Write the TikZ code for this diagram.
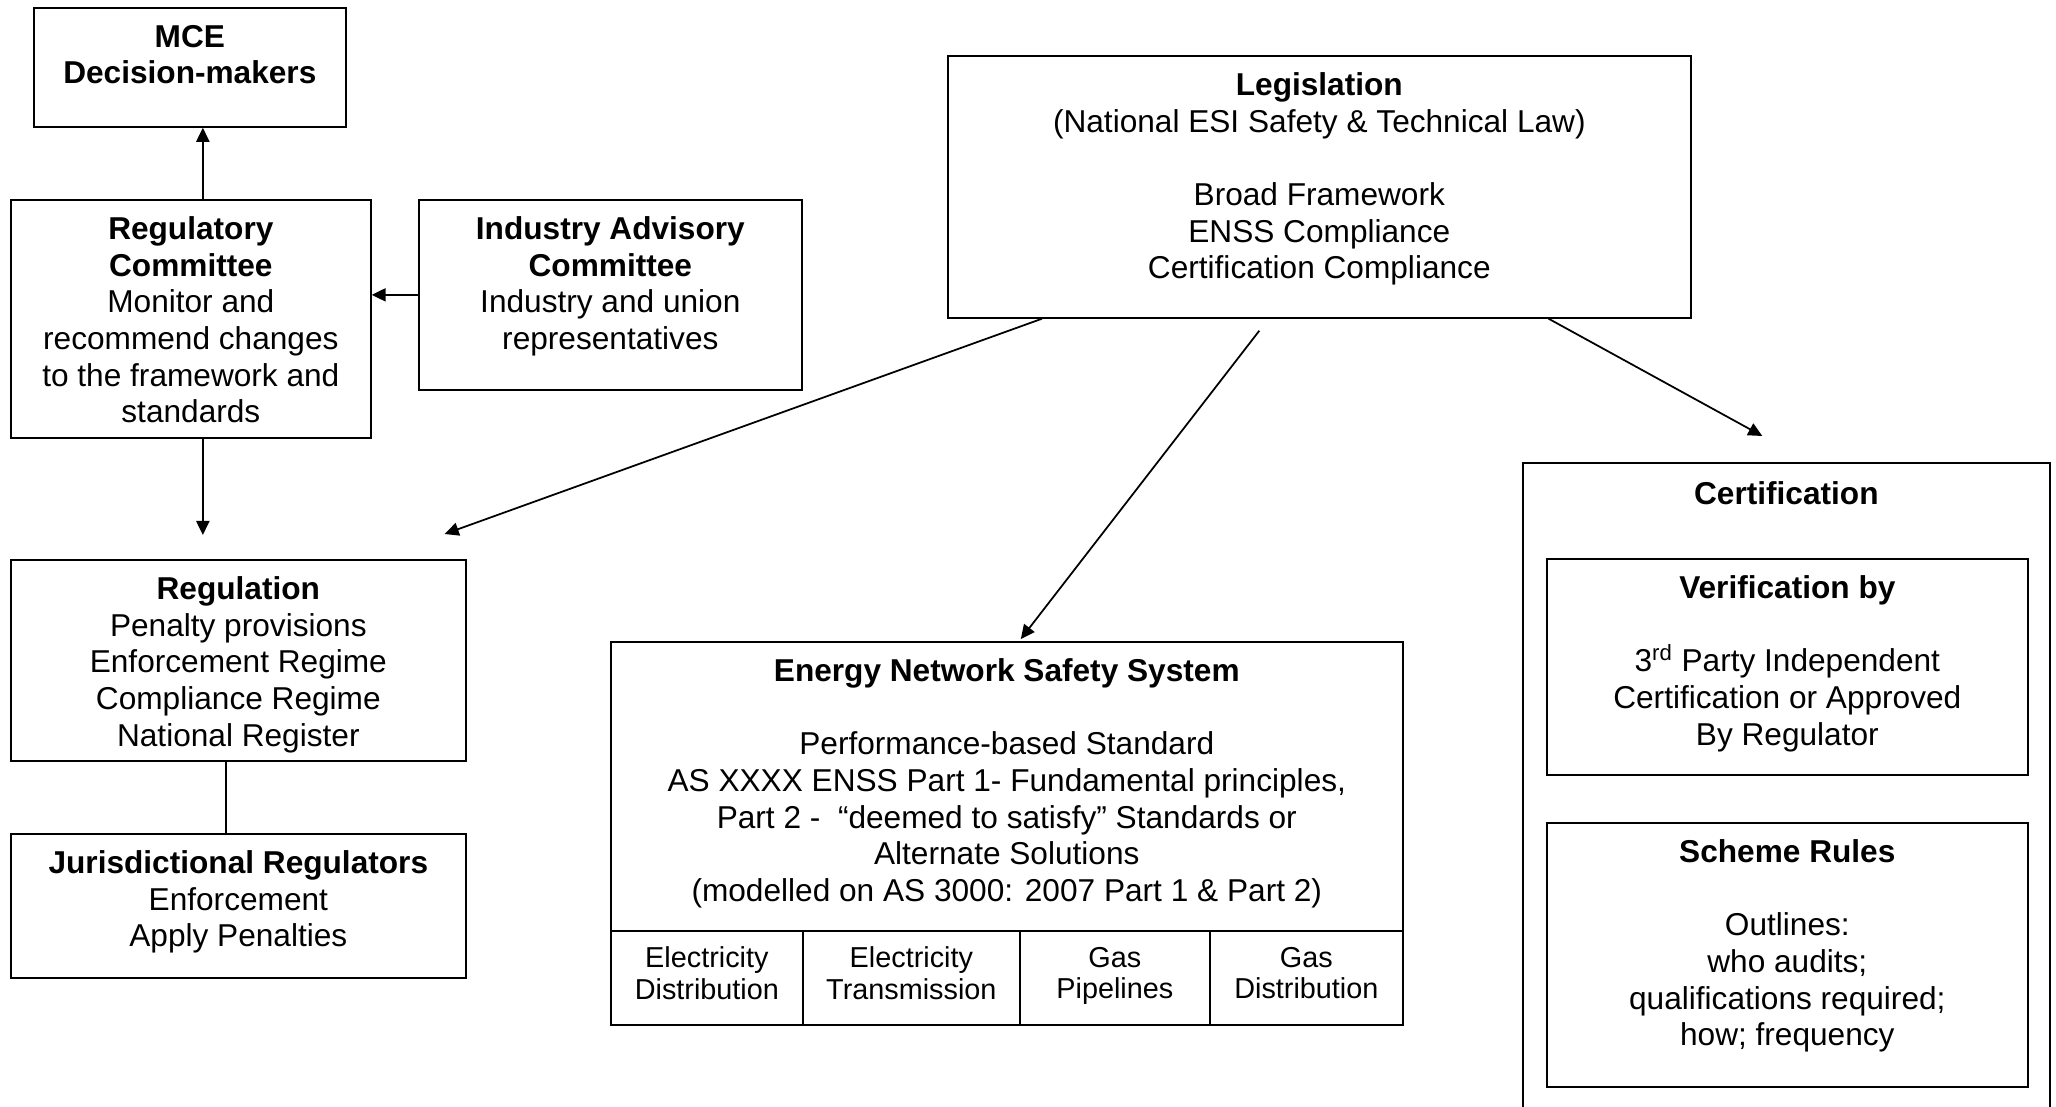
\documentclass[tikz,border=0pt]{standalone}
\usepackage{fontspec}
\setmainfont{Liberation Sans}
\usetikzlibrary{arrows.meta,calc}

\begin{document}
\begin{tikzpicture}[x=0.02cm,y=-0.02cm,
    box/.style={draw, line width=1pt, inner sep=0pt, anchor=north west},
    txt/.style={align=center, inner sep=0pt, anchor=north, font=\fontsize{18}{20.8}\selectfont},
    cell/.style={draw, line width=1pt, inner sep=0pt, anchor=north west, align=center,
      minimum height=1.88cm, font=\fontsize{16.4}{17.9}\selectfont,
      execute at begin node=\strut, execute at end node=\strut},
    link/.style={line width=1pt, -{Triangle[length=8pt,width=7.5pt]}}]
            \clip (0,0) rectangle (2056,1106);
            {
            % Drawing box MCE
            \draw (33,7) node [box, minimum width=6.24cm, minimum height=2.38cm] (mce) {};%
            \draw ([yshift=-10pt]mce.north) node [txt] (mcetxt) {\textbf{MCE}\\\textbf{Decision-makers}};%

            % Drawing box Regulatory Committee
            \draw (10,199) node [box, minimum width=7.2cm, minimum height=4.76cm] (regc) {};%
            \draw ([yshift=-10pt]regc.north) node [txt] (regctxt) {\textbf{Regulatory}\\\textbf{Committee}\\Monitor and\\recommend changes\\to the framework and\\standards};%

            % Drawing box Industry Advisory Committee
            \draw (418,199) node [box, minimum width=7.66cm, minimum height=3.8cm] (iac) {};%
            \draw ([yshift=-10pt]iac.north) node [txt] (iactxt) {\textbf{Industry Advisory}\\\textbf{Committee}\\Industry and union\\representatives};%

            % Drawing box Regulation
            \draw (10,559) node [box, minimum width=9.1cm, minimum height=4.02cm] (regn) {};%
            \draw ([yshift=-10pt]regn.north) node [txt] (regntxt) {\textbf{Regulation}\\Penalty provisions\\Enforcement Regime\\Compliance Regime\\National Register};%

            % Drawing box Jurisdictional Regulators
            \draw (10,833) node [box, minimum width=9.1cm, minimum height=2.88cm] (jur) {};%
            \draw ([yshift=-10pt]jur.north) node [txt] (jurtxt) {\textbf{Jurisdictional Regulators}\\Enforcement\\Apply Penalties};%

            % Drawing box Legislation
            \draw (947,55) node [box, minimum width=14.86cm, minimum height=5.24cm] (legis) {};%
            \draw ([yshift=-10pt]legis.north) node [txt] (legistxt) {\textbf{Legislation}\\(National ESI Safety \& Technical Law)\\[20.8pt]Broad Framework\\ENSS Compliance\\Certification Compliance};%

            % Drawing box Energy Network Safety System
            \draw (610,641) node [box, minimum width=15.84cm, minimum height=7.66cm] (enss) {};%
            \draw ([yshift=-10pt]enss.north) node [txt] (ensstxt) {\textbf{Energy Network Safety System}\\[20.8pt]Performance-based Standard\\AS XXXX ENSS Part 1- Fundamental principles,\\Part 2 -\ \ “deemed to satisfy” Standards or\\Alternate Solutions\\(modelled on AS 3000: 2007 Part 1 \& Part 2)};%

            % Drawing sector cells
            \draw (610,930) node [cell, minimum width=3.84cm] (elecdist) {Electricity\\Distribution};%
            \draw (802,930) node [cell, minimum width=4.34cm] (electrans) {Electricity\\Transmission};%
            \draw (1019,930) node [cell, minimum width=3.8cm] (gaspipe) {Gas\\Pipelines};%
            \draw (1209,930) node [cell, minimum width=3.86cm] (gasdist) {Gas\\Distribution};%

            % Drawing box Certification
            \draw (1522,462) node [box, minimum width=10.54cm, minimum height=14cm] (cert) {};%
            \draw ([yshift=-11pt]cert.north) node [txt] (certtxt) {\textbf{Certification}};%

            % Drawing box Verification
            \draw (1546,558) node [box, minimum width=9.62cm, minimum height=4.32cm] (verif) {};%
            \draw ([yshift=-10pt]verif.north) node [txt] (veriftxt) {\textbf{Verification by}\\[20.8pt]3\textsuperscript{rd} Party Independent\\Certification or Approved\\By Regulator};%

            % Drawing box Scheme Rules
            \draw (1546,822) node [box, minimum width=9.62cm, minimum height=5.28cm] (scheme) {};%
            \draw ([yshift=-10pt]scheme.north) node [txt] (schemetxt) {\textbf{Scheme Rules}\\[20.8pt]Outlines:\\who audits;\\qualifications required;\\how; frequency};%

            % Drawing links of the committee
            \coordinate (rctop) at ($(regc.north)+(12,0)$);
            \coordinate (rcbot) at ($(regc.south)+(12,0)$);
            \draw [link] (rctop) -- (rctop |- mce.south);%
            \draw [link] (rcbot) -- ($(rcbot |- regn.north)+(0,-24)$);%
            \draw [link] (iac.west) -- (iac.west -| regc.east);%
            \draw [line width=1pt] ($(regn.south)+(-12,0)$) -- ($(jur.north)+(-12,0)$);%

            % Drawing links from legislation
            \draw [link] ($(legis.south west)+(95,0)$) -- ($(regn.north east)+(-22,-25)$);%
            \draw [link] ($(legis.south)+(-60,12)$) -- ($(enss.north)+(14,-2)$);%
            \draw [link] ($(legis.south east)+(-143,0)$) -- ($(cert.north)+(-24,-26)$);%
            }
\end{tikzpicture}
\end{document}
